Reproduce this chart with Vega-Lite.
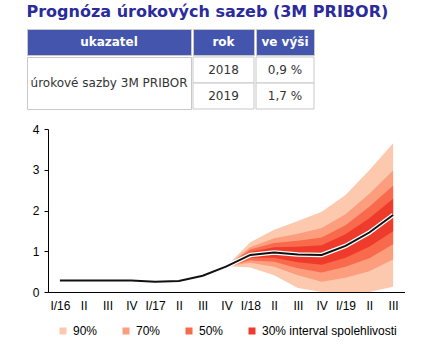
{
  "$schema": "https://vega.github.io/schema/vega-lite/v6.json",
  "background": "white",
  "padding": {"left": 26, "top": 3, "right": 0, "bottom": 0},
  "config": {"view": {"stroke": null}, "concat": {"spacing": 0}},
  "title": {"text": "Prognóza úrokových sazeb (3M PRIBOR)", "anchor": "start", "font": "DejaVu Sans", "fontSize": 16, "fontWeight": "bold", "color": "#2B2B9B", "offset": 9},
  "spacing": 13,
  "vconcat": [
    {
      "spacing": 0,
      "hconcat": [
        {
          "spacing": 0,
          "vconcat": [
            {"width": 164, "height": 26, "view": {"fill": "#4355AD", "stroke": "#c8c8c8"},
             "data": {"values": [{"t": "ukazatel"}]},
             "mark": {"type": "text", "font": "DejaVu Sans", "fontSize": 12, "fontWeight": "bold", "color": "white"},
             "encoding": {"text": {"field": "t"}}},
            {"width": 164, "height": 52, "view": {"fill": "white", "stroke": "#c8c8c8"},
             "data": {"values": [{"t": "úrokové sazby 3M PRIBOR"}]},
             "mark": {"type": "text", "font": "DejaVu Sans", "fontSize": 12, "color": "#333333"},
             "encoding": {"text": {"field": "t"}}}
          ]
        },
        {
          "spacing": 0,
          "vconcat": [
            {"width": 61, "height": 26, "view": {"fill": "#4355AD", "stroke": "#c8c8c8"},
             "data": {"values": [{"t": "rok"}]},
             "mark": {"type": "text", "font": "DejaVu Sans", "fontSize": 12, "fontWeight": "bold", "color": "white"},
             "encoding": {"text": {"field": "t"}}},
            {"width": 61, "height": 52,
             "data": {"values": [{"rok": "2018", "v": "0,9 %"}, {"rok": "2019", "v": "1,7 %"}]},
             "encoding": {"y": {"field": "rok", "type": "nominal", "axis": null, "scale": {"paddingInner": 0, "paddingOuter": 0}}},
             "layer": [
               {"mark": {"type": "rect", "fill": "white", "stroke": "#c8c8c8"}},
               {"mark": {"type": "text", "font": "DejaVu Sans", "fontSize": 12, "color": "#333333"}, "encoding": {"text": {"field": "rok"}}}
             ]}
          ]
        },
        {
          "spacing": 0,
          "vconcat": [
            {"width": 58, "height": 26, "view": {"fill": "#4355AD", "stroke": "#c8c8c8"},
             "data": {"values": [{"t": "ve výši"}]},
             "mark": {"type": "text", "font": "DejaVu Sans", "fontSize": 12, "fontWeight": "bold", "color": "white"},
             "encoding": {"text": {"field": "t"}}},
            {"width": 58, "height": 52,
             "data": {"values": [{"rok": "2018", "v": "0,9 %"}, {"rok": "2019", "v": "1,7 %"}]},
             "encoding": {"y": {"field": "rok", "type": "nominal", "axis": null, "scale": {"paddingInner": 0, "paddingOuter": 0}}},
             "layer": [
               {"mark": {"type": "rect", "fill": "white", "stroke": "#c8c8c8"}},
               {"mark": {"type": "text", "font": "DejaVu Sans", "fontSize": 12, "color": "#333333"}, "encoding": {"text": {"field": "v"}}}
             ]}
          ]
        }
      ]
    },
    {
      "spacing": 0,
      "hconcat": [
        {"width": 1, "height": 163, "data": {"values": []}, "mark": "point"},
        {
          "width": 357,
          "height": 163,
          "data": {"values": [
            {"q": "I/16", "v": 0.28, "f": false},
            {"q": "II/16", "v": 0.28, "f": false},
            {"q": "III/16", "v": 0.28, "f": false},
            {"q": "IV/16", "v": 0.28, "f": false},
            {"q": "I/17", "v": 0.25, "f": false},
            {"q": "II/17", "v": 0.27, "f": false},
            {"q": "III/17", "v": 0.40, "f": false},
            {"q": "IV/17", "v": 0.63, "f": true, "l90": 0.63, "l70": 0.63, "l50": 0.63, "l30": 0.63, "u30": 0.63, "u50": 0.63, "u70": 0.63, "u90": 0.63},
            {"q": "I/18", "v": 0.91, "f": true, "l90": 0.60, "l70": 0.72, "l50": 0.78, "l30": 0.84, "u30": 0.98, "u50": 1.04, "u70": 1.10, "u90": 1.22},
            {"q": "II/18", "v": 0.97, "f": true, "l90": 0.41, "l70": 0.62, "l50": 0.74, "l30": 0.84, "u30": 1.10, "u50": 1.20, "u70": 1.32, "u90": 1.53},
            {"q": "III/18", "v": 0.92, "f": true, "l90": 0.10, "l70": 0.41, "l50": 0.58, "l30": 0.73, "u30": 1.11, "u50": 1.26, "u70": 1.43, "u90": 1.74},
            {"q": "IV/18", "v": 0.91, "f": true, "l90": 0.00, "l70": 0.25, "l50": 0.48, "l30": 0.67, "u30": 1.15, "u50": 1.34, "u70": 1.57, "u90": 1.97},
            {"q": "I/19", "v": 1.13, "f": true, "l90": 0.00, "l70": 0.35, "l50": 0.62, "l30": 0.84, "u30": 1.42, "u50": 1.64, "u70": 1.91, "u90": 2.38},
            {"q": "II/19", "v": 1.46, "f": true, "l90": 0.00, "l70": 0.51, "l50": 0.83, "l30": 1.11, "u30": 1.81, "u50": 2.09, "u70": 2.41, "u90": 2.99},
            {"q": "III/19", "v": 1.89, "f": true, "l90": 0.13, "l70": 0.80, "l50": 1.17, "l30": 1.49, "u30": 2.29, "u50": 2.61, "u70": 2.98, "u90": 3.65}
          ]},
          "encoding": {
            "x": {"field": "q", "type": "ordinal", "sort": null, "title": null,
                  "scale": {"type": "point", "padding": 0.5},
                  "axis": {"ticks": false, "domainColor": "#000000", "labelPadding": 8, "labelAngle": 0,
                           "labelFont": "Liberation Sans", "labelFontSize": 12, "labelColor": "#000000",
                           "labelExpr": "indexof(datum.value, 'I/') == 0 ? datum.value : split(datum.value, '/')[0]"}}
          },
          "layer": [
            {"mark": {"type": "area", "opacity": 1},
             "encoding": {
               "y": {"field": "l90", "type": "quantitative", "title": null, "scale": {"domain": [0, 4]},
                     "axis": {"values": [0, 1, 2, 3, 4], "grid": false, "tickSize": 4, "tickColor": "#000000", "domainColor": "#000000",
                              "minExtent": 20,
                              "labelPadding": 5, "labelFont": "Liberation Sans", "labelFontSize": 12, "labelColor": "#000000"}},
               "y2": {"field": "u90"},
               "color": {"datum": "90%",
                         "scale": {"domain": ["90%", "70%", "50%", "30% interval spolehlivosti"], "range": ["#FDC9AE", "#FC9D7E", "#F9694C", "#EE3B2B"]},
                         "legend": {"orient": "none", "legendX": 30, "legendY": 296, "direction": "horizontal", "title": null,
                                    "symbolType": "square", "symbolSize": 49, "symbolStrokeWidth": 0,
                                    "labelFont": "Liberation Sans", "labelFontSize": 12, "labelColor": "#000000",
                                    "columnPadding": 22, "labelOffset": 4, "padding": 0}}
             }},
            {"mark": {"type": "area", "opacity": 1},
             "encoding": {"y": {"field": "l70", "type": "quantitative", "title": null}, "y2": {"field": "u70"}, "color": {"datum": "70%"}}},
            {"mark": {"type": "area", "opacity": 1},
             "encoding": {"y": {"field": "l50", "type": "quantitative", "title": null}, "y2": {"field": "u50"}, "color": {"datum": "50%"}}},
            {"mark": {"type": "area", "opacity": 1},
             "encoding": {"y": {"field": "l30", "type": "quantitative", "title": null}, "y2": {"field": "u30"}, "color": {"datum": "30% interval spolehlivosti"}}},
            {"transform": [{"filter": "datum.f"}],
             "mark": {"type": "line", "color": "white", "strokeWidth": 4.5},
             "encoding": {"y": {"field": "v", "type": "quantitative", "title": null}}},
            {"mark": {"type": "line", "color": "#111111", "strokeWidth": 2},
             "encoding": {"y": {"field": "v", "type": "quantitative", "title": null}}}
          ]
        }
      ]
    }
  ]
}
